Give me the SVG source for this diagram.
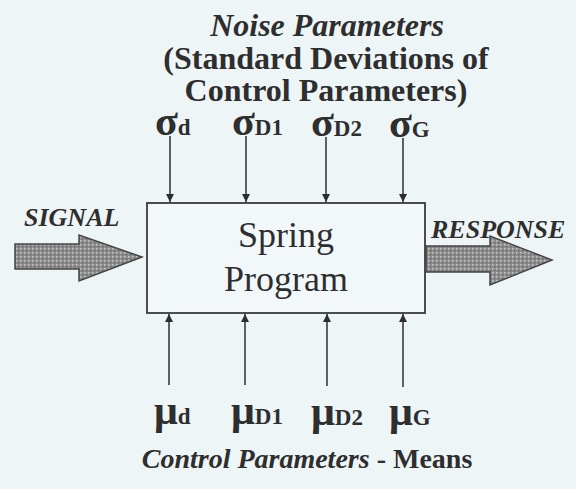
<svg xmlns="http://www.w3.org/2000/svg" width="576" height="489" viewBox="0 0 576 489">
<style>
.t{font-family:"Liberation Serif","Times New Roman",serif;fill:#2e2e2e}
.bi{font-weight:bold;font-style:italic}
.b{font-weight:bold}
.sym{font-size:42px;font-weight:bold}
.sub{font-size:23px;font-weight:bold}
.ln{stroke:#3a3a3a;stroke-width:1.6;fill:none}
.big{fill:url(#dots);stroke:#444;stroke-width:1.5}
</style>
<defs>
<marker id="ah" viewBox="0 0 10 10" refX="10" refY="5" markerWidth="8" markerHeight="9" markerUnits="userSpaceOnUse" orient="auto"><path d="M0,0 L10,5 L0,10 z" fill="#2e2e2e"/></marker>
<pattern id="dots" width="4" height="4" patternUnits="userSpaceOnUse"><rect width="4" height="4" fill="#8e8e8e"/><rect x="0" y="0" width="1.5" height="1.5" fill="#c4c4c4"/><rect x="2" y="2" width="1.5" height="1.5" fill="#6a6a6a"/></pattern>
</defs>
<rect width="576" height="489" fill="#eef5f7"/>
<g id="title" class="t">
<text x="327" y="36" font-size="32" class="bi" text-anchor="middle">Noise Parameters</text>
<text x="326" y="69" font-size="32" class="b" text-anchor="middle">(Standard Deviations of</text>
<text x="326" y="101" font-size="32" class="b" text-anchor="middle">Control Parameters)</text>
</g>
<g id="spring-program">
<rect x="147" y="203" width="278" height="110" fill="#f2f8fa" stroke="#3a3a3a" stroke-width="1.8"/>
<text class="t" x="286" y="247" font-size="36" text-anchor="middle">Spring</text>
<text class="t" x="286" y="291" font-size="36" text-anchor="middle">Program</text>
</g>
<g id="signal">
<path class="big" d="M15,244 H79 V235 L142,257 L79,281 V269 H15 Z"/>
<text class="t bi" x="24" y="226" font-size="26">SIGNAL</text>
</g>
<g id="response">
<path class="big" d="M426,246 H490 V236 L552,260 L490,285 V272 H426 Z"/>
<text class="t bi" x="431" y="238" font-size="26">RESPONSE</text>
</g>
<g id="sigma-labels" class="t">
<text x="155" y="135"><tspan class="sym">σ</tspan><tspan class="sub">d</tspan></text>
<text x="232" y="135"><tspan class="sym">σ</tspan><tspan class="sub">D1</tspan></text>
<text x="311" y="136"><tspan class="sym">σ</tspan><tspan class="sub">D2</tspan></text>
<text x="389" y="137"><tspan class="sym">σ</tspan><tspan class="sub">G</tspan></text>
</g>
<g id="mu-labels" class="t">
<text x="154" y="424"><tspan class="sym">μ</tspan><tspan class="sub">d</tspan></text>
<text x="231" y="424"><tspan class="sym">μ</tspan><tspan class="sub">D1</tspan></text>
<text x="311" y="425"><tspan class="sym">μ</tspan><tspan class="sub">D2</tspan></text>
<text x="389" y="425"><tspan class="sym">μ</tspan><tspan class="sub">G</tspan></text>
</g>
<g id="footer" class="t">
<text x="307" y="468" font-size="28" text-anchor="middle"><tspan class="bi">Control Parameters</tspan><tspan class="b"> - Means</tspan></text>
</g>
<g id="connectors">
<line class="ln" x1="170" y1="136" x2="170" y2="202" marker-end="url(#ah)"/>
<line class="ln" x1="246" y1="136" x2="246" y2="202" marker-end="url(#ah)"/>
<line class="ln" x1="326" y1="137" x2="326" y2="202" marker-end="url(#ah)"/>
<line class="ln" x1="403" y1="138" x2="403" y2="202" marker-end="url(#ah)"/>
<line class="ln" x1="169" y1="385" x2="169" y2="314" marker-end="url(#ah)"/>
<line class="ln" x1="245" y1="385" x2="245" y2="314" marker-end="url(#ah)"/>
<line class="ln" x1="327" y1="386" x2="327" y2="314" marker-end="url(#ah)"/>
<line class="ln" x1="403" y1="387" x2="403" y2="314" marker-end="url(#ah)"/>
</g>
</svg>
